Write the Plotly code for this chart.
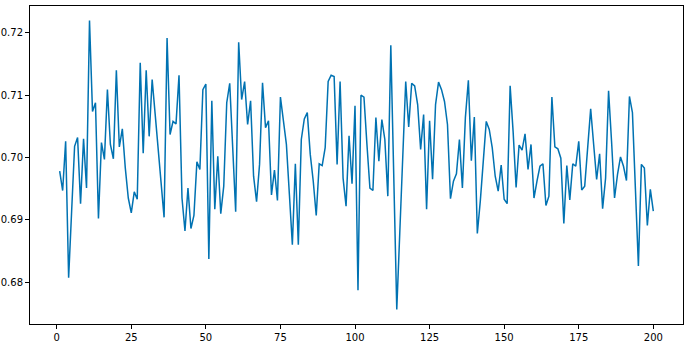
import plotly.graph_objects as go

steps = list(range(1, 201))
values = [
    0.6978, 0.6947, 0.7026, 0.6807, 0.6913, 0.7018, 0.7032, 0.6926, 0.7030, 0.6951,
    0.7220, 0.7074, 0.7088, 0.6902, 0.7024, 0.6997, 0.7109, 0.7021, 0.6998, 0.7140,
    0.7017, 0.7046, 0.6983, 0.6935, 0.6911, 0.6945, 0.6933, 0.7152, 0.7007, 0.7140,
    0.7034, 0.7125, 0.7070, 0.7015, 0.6959, 0.6904, 0.7192, 0.7037, 0.7058, 0.7054,
    0.7132, 0.6935, 0.6882, 0.6951, 0.6886, 0.6907, 0.6993, 0.6981, 0.7109, 0.7118,
    0.6837, 0.7091, 0.6917, 0.7002, 0.6910, 0.6954, 0.7088, 0.7119, 0.7016, 0.6913,
    0.7185, 0.7093, 0.7122, 0.7053, 0.7091, 0.6970, 0.6929, 0.6989, 0.7120, 0.7048,
    0.7059, 0.6940, 0.6980, 0.6931, 0.7097, 0.7058, 0.7021, 0.6941, 0.6860, 0.6990,
    0.6860, 0.7029, 0.7062, 0.7072, 0.7005, 0.6962, 0.6907, 0.6990, 0.6987, 0.7016,
    0.7122, 0.7132, 0.7130, 0.6989, 0.7122, 0.6967, 0.6922, 0.7035, 0.6958, 0.7083,
    0.6787, 0.7100, 0.7097, 0.7021, 0.6951, 0.6947, 0.7064, 0.6994, 0.7061, 0.7029,
    0.6938, 0.7180, 0.6968, 0.6756, 0.6878, 0.7000, 0.7122, 0.7049, 0.7119, 0.7115,
    0.7085, 0.7013, 0.7069, 0.6917, 0.7059, 0.6965, 0.7085, 0.7121, 0.7109, 0.7090,
    0.7053, 0.6934, 0.6962, 0.6974, 0.7029, 0.6951, 0.7064, 0.7124, 0.6995, 0.7065,
    0.6878, 0.6930, 0.6999, 0.7058, 0.7045, 0.7016, 0.6970, 0.6946, 0.6988, 0.6933,
    0.6926, 0.7115, 0.7042, 0.6952, 0.7020, 0.7012, 0.7038, 0.6981, 0.7021, 0.6935,
    0.6962, 0.6986, 0.6990, 0.6923, 0.6938, 0.7097, 0.7017, 0.7014, 0.6999, 0.6894,
    0.6987, 0.6932, 0.6990, 0.6986, 0.7026, 0.6948, 0.6954, 0.7021, 0.7078, 0.7021,
    0.6965, 0.7006, 0.6918, 0.6967, 0.7107, 0.7026, 0.6935, 0.6973, 0.7001, 0.6986,
    0.6963, 0.7098, 0.7072, 0.6949, 0.6826, 0.6989, 0.6983, 0.6891, 0.6949, 0.6914,
]

x_ticks = [0, 25, 50, 75, 100, 125, 150, 175, 200]
y_ticks = [0.68, 0.69, 0.70, 0.71, 0.72]

fig = go.Figure()
fig.add_trace(go.Scatter(x=steps, y=values, mode="lines",
                         line=dict(color="#0072B2", width=1.5),
                         showlegend=False, hoverinfo="skip"))

xmin, xmax = min(steps), max(steps)
ymin, ymax = min(values), max(values)
xpad = (xmax - xmin) * 0.05
ypad = (ymax - ymin) * 0.05

axis_common = dict(showgrid=False, zeroline=False, showline=True, linecolor="black",
                   linewidth=1, mirror=True, ticks="outside", ticklen=4, tickwidth=1,
                   tickcolor="black", automargin=False,
                   tickfont=dict(family="DejaVu Sans", size=10, color="black"))

fig.update_layout(
    width=690, height=345,
    margin=dict(l=30, r=7, t=6, b=21),
    paper_bgcolor="white", plot_bgcolor="white",
    xaxis=dict(range=[xmin - xpad, xmax + xpad], tickvals=x_ticks,
               ticktext=[str(t) for t in x_ticks], **axis_common),
    yaxis=dict(range=[ymin - ypad, ymax + ypad], tickvals=y_ticks,
               ticktext=[f"{t:.2f}" for t in y_ticks], **axis_common),
)

fig.write_html("out.html")
